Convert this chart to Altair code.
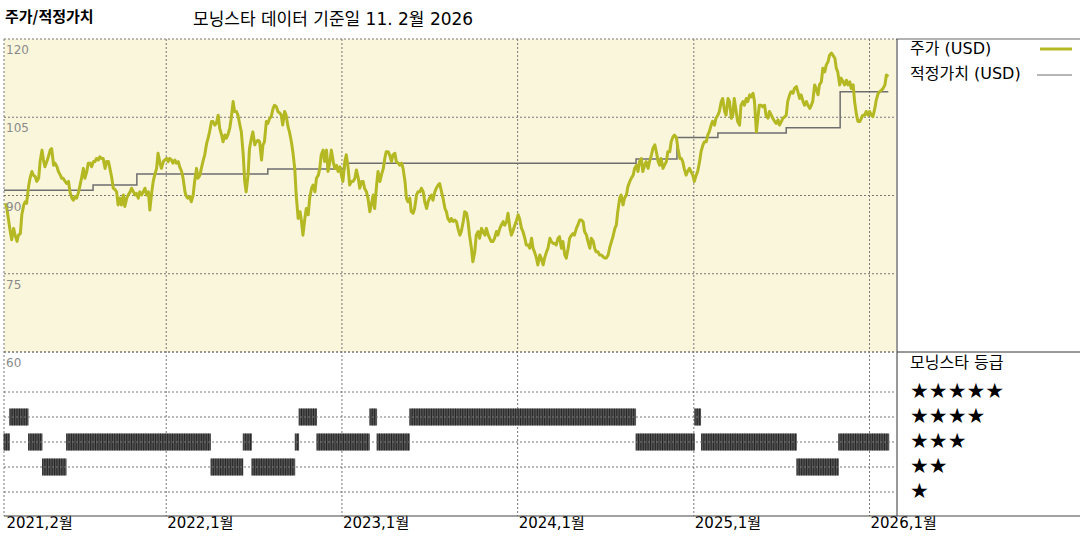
import altair as alt
import pandas as pd

KR = "Noto Sans CJK KR"
MIX = "DejaVu Sans, Noto Sans CJK KR"

title_text = "주가/적정가치"
subtitle_text = "모닝스타 데이터 기준일 11. 2월 2026"
legend_price = "주가 (USD)"
legend_fv = "적정가치 (USD)"
legend_rating = "모닝스타 등급"

x_domain = ["2021-01-29", "2026-02-25"]
year_dates = ["2021-02-01", "2022-01-01", "2023-01-01", "2024-01-01", "2025-01-01", "2026-01-01"]
year_labels = ["2021,2월", "2022,1월", "2023,1월", "2024,1월", "2025,1월", "2026,1월"]
grid_dates = ["2022-01-01", "2023-01-01", "2024-01-01", "2025-01-01", "2026-01-01"]
price_ticks = [120, 105, 90, 75, 60]
star_levels = [5, 4, 3, 2, 1]

# price, read in three stretches (start date, end date, values evenly spaced)
price_a_span = ("2021-02-01", "2022-10-02")
price_a = [88.5, 87.5, 85.6, 83.1, 81.5, 83.7, 82.4, 81.2, 82.4, 82.7, 86.3, 88.2, 88.8, 88.5, 91.7, 93.3,
           94.6, 93.9, 93.6, 92.7, 93.3, 96.5, 98.7, 96.8, 95.5, 96.5, 97.4, 98.7, 99.0, 95.8, 96.2, 95.5,
           94.6, 93.9, 93.3, 93.3, 92.7, 92.3, 92.7, 90.7, 89.5, 89.1, 89.8, 89.5, 90.7, 92.0, 93.3, 95.2,
           93.3, 94.6, 96.2, 96.2, 95.5, 96.5, 96.5, 97.1, 96.8, 97.4, 97.1, 97.1, 95.2, 96.5, 96.5, 95.2,
           93.3, 91.4, 91.1, 90.7, 88.2, 89.5, 88.2, 90.1, 87.9, 89.5, 90.1, 90.7, 91.4, 90.7, 90.1, 90.4,
           89.5, 90.7, 90.1, 90.7, 91.4, 90.1, 90.7, 87.2, 90.7, 92.7, 93.9, 95.2, 98.1, 96.2, 95.2, 96.5,
           96.8, 97.1, 96.5, 97.1, 96.8, 96.2, 96.8, 96.2, 96.5, 95.5, 94.6, 93.3, 90.7, 89.8, 89.5, 89.8,
           88.8, 90.1, 92.7, 95.2, 93.3, 93.9, 95.2, 96.8, 97.8, 100.0, 101.0, 102.2, 104.2, 104.2, 103.5,
           103.8, 105.4, 102.9, 101.6, 100.3, 101.6, 101.0, 101.6, 102.9, 104.8, 108.0, 106.1, 106.1, 105.4,
           103.5, 102.2, 97.8, 92.7, 90.7, 93.9, 99.0, 101.0, 102.2, 99.7, 100.3, 100.6, 100.3, 96.8, 99.7,
           100.3, 104.2, 103.8, 104.8, 105.1, 106.7, 107.3, 107.0, 106.1, 105.8, 105.4, 103.5, 106.1, 105.4,
           103.2, 102.2, 100.3, 98.4, 95.2, 90.1, 85.6]

price_b_span = ("2022-10-06", "2024-12-03")
price_b = [86.9, 85.0, 82.4, 85.6, 87.5, 86.3, 89.5, 91.4, 92.0, 90.7, 93.3, 93.9, 95.2, 97.8, 98.7, 96.5,
           98.7, 94.6, 96.5, 98.7, 96.5, 95.2, 95.8, 94.6, 95.5, 93.9, 92.7, 96.5, 97.8, 95.2, 92.0, 92.7,
           92.7, 93.3, 94.9, 93.3, 91.4, 92.7, 92.7, 91.4, 90.7, 89.5, 86.9, 88.2, 90.1, 87.5, 92.0, 94.6,
           92.7, 93.9, 95.2, 97.1, 98.4, 98.4, 97.8, 96.5, 97.8, 98.1, 96.5, 96.2, 95.8, 96.2, 95.2, 92.7,
           89.5, 88.8, 89.5, 86.9, 86.6, 87.5, 90.1, 90.7, 90.7, 91.4, 90.7, 88.8, 87.5, 88.8, 89.5, 90.1,
           89.1, 90.7, 91.4, 92.0, 92.3, 90.7, 89.5, 87.5, 86.9, 85.6, 85.0, 85.6, 85.0, 85.3, 85.0, 83.7,
           82.4, 83.1, 85.0, 86.9, 86.6, 85.0, 82.4, 79.9, 77.3, 79.2, 82.4, 83.1, 81.8, 83.7, 83.1, 82.4,
           83.7, 82.4, 81.8, 81.2, 81.2, 81.8, 83.1, 82.4, 83.7, 84.3, 85.0, 84.3, 85.0, 86.6, 83.7, 82.4,
           83.1, 84.3, 85.0, 86.3, 85.6, 83.7, 83.1, 81.8, 80.5, 80.5, 79.9, 81.8, 79.9, 79.2, 78.0, 76.7,
           78.6, 78.0, 76.7, 78.0, 79.2, 79.9, 81.8, 81.2, 80.8, 80.8, 80.5, 81.8, 82.1, 79.9, 81.2, 78.6,
           78.0, 79.9, 81.8, 82.4, 82.7, 82.4, 83.7, 84.3, 85.3, 85.3, 85.0, 83.1, 82.4, 81.2, 79.9, 81.8,
           81.2, 79.9, 79.2, 79.2, 78.6, 78.6, 78.3, 78.0, 78.0, 78.6, 79.9, 81.2, 82.1, 83.7, 84.3, 86.9,
           89.5, 90.1, 88.2, 89.5, 90.1, 91.7, 92.7, 93.3, 93.9, 95.2, 95.8, 94.6, 96.5, 97.1, 94.6, 95.8,
           96.5, 95.2, 96.5, 97.8, 99.0, 99.7, 98.4, 96.5, 95.8, 97.1, 95.2, 95.8, 96.5, 98.4, 98.4, 100.3,
           101.3, 101.6, 101.0, 99.0, 97.1]

price_c_span = ("2024-12-06", "2026-02-09")
price_c = [97.1, 96.5, 95.2, 93.9, 94.6, 95.2, 94.6, 93.9, 92.7, 93.9, 94.6, 96.5, 98.4, 99.7, 100.3, 100.3,
           101.6, 102.2, 103.5, 104.2, 103.5, 104.8, 105.4, 106.1, 108.0, 108.6, 106.1, 105.4, 108.6, 108.0,
           104.8, 105.4, 108.6, 106.1, 104.2, 103.5, 107.3, 108.0, 107.3, 108.6, 108.0, 109.3, 108.9, 109.6,
           108.0, 102.2, 104.8, 107.3, 107.3, 107.0, 107.3, 105.4, 104.8, 106.1, 105.4, 104.8, 104.2, 103.8,
           104.5, 103.5, 104.2, 104.8, 105.1, 105.4, 108.0, 109.3, 109.9, 109.6, 110.5, 110.9, 109.9, 108.6,
           109.3, 108.0, 107.3, 108.0, 107.3, 106.7, 107.3, 108.0, 111.2, 110.5, 109.3, 111.2, 111.8, 114.4,
           113.7, 115.0, 115.7, 116.9, 117.3, 116.9, 116.3, 114.4, 113.7, 111.2, 112.5, 111.8, 111.2, 112.1,
           111.2, 111.8, 110.5, 111.2, 108.0, 105.4, 104.2, 104.2, 104.8, 105.4, 105.4, 106.1, 105.4, 106.1,
           105.4, 105.1, 106.7, 108.3, 109.6, 109.9, 110.2, 110.5, 111.2, 113.1, 112.8]

# fair value steps (date where a level starts, level)
fv_dates = ["2021-01-29", "2021-08-02", "2021-11-01", "2022-07-31", "2023-01-07", "2024-09-03",
            "2024-11-27", "2025-02-20", "2025-07-12", "2025-11-01", "2026-02-09"]
fv_values = [91.0, 92.0, 94.1, 95.1, 96.2, 97.0, 101.1, 102.0, 103.0, 109.9, 109.9]

# Morningstar rating periods
rating_start = ["2021-01-29", "2021-02-10", "2021-03-21", "2021-04-19", "2021-06-08", "2022-04-04",
                "2022-06-10", "2022-06-28", "2022-09-26", "2022-10-04", "2022-11-10", "2023-02-28",
                "2023-03-15", "2023-05-22", "2024-09-03", "2025-01-03", "2025-01-17", "2025-08-03",
                "2025-10-29"]
rating_end = ["2021-02-10", "2021-03-21", "2021-04-19", "2021-06-08", "2022-04-04", "2022-06-10",
              "2022-06-28", "2022-09-26", "2022-10-04", "2022-11-10", "2023-02-28", "2023-03-15",
              "2023-05-22", "2024-09-03", "2025-01-03", "2025-01-16", "2025-08-03", "2025-10-29",
              "2026-02-11"]
rating_stars = [3, 4, 3, 2, 3, 2, 3, 2, 3, 4, 3, 4, 3, 4, 3, 4, 3, 2, 3]

# ---------------------------------------------------------------- build
frames = []
for (s, e), vals in [(price_a_span, price_a), (price_b_span, price_b), (price_c_span, price_c)]:
    d = pd.date_range(s, e, periods=len(vals)).strftime("%Y-%m-%d")
    frames.append(pd.DataFrame({"date": d, "price": vals}))
price_df = pd.concat(frames, ignore_index=True)
fv_df = pd.DataFrame({"date": fv_dates, "fv": fv_values})
rating_df = pd.DataFrame({"start": rating_start, "end": rating_end, "stars": rating_stars})

# daily rating marks (the rating bars are drawn as many daily strokes)
stripe_rows = []
for s, e, n in zip(rating_start, rating_end, rating_stars):
    days = pd.date_range(s, e, freq="D")
    for i, d in enumerate(days[:-1]):
        stripe_rows.append({"date": d.strftime("%Y-%m-%d"), "stars": n, "k": i % 5})
stripe_df = pd.DataFrame(stripe_rows)

XS = alt.Scale(domain=x_domain, range=[4, 896])
YP = alt.Scale(domain=[60, 120], range=[352, 39], zero=False, nice=False)
YR = alt.Scale(domain=[1, 5], range=[492, 392], zero=False, nice=False)
one = pd.DataFrame({"a": [0]})

GRID = "#777777"
DASH = [2, 2]


def static_rule(x, x2, y, y2, color, dash=None, width=1):
    kw = dict(color=color, strokeWidth=width)
    if dash:
        kw["strokeDash"] = dash
    return alt.Chart(one).mark_rule(**kw).encode(
        x=alt.value(x), x2=alt.value(x2), y=alt.value(y), y2=alt.value(y2))


def label(text, x, y, size, color="#000000", weight="normal", font=MIX, align="left"):
    return alt.Chart(pd.DataFrame({"t": [text]})).mark_text(
        align=align, baseline="middle", fontSize=size, font=font, fontWeight=weight, color=color
    ).encode(x=alt.value(x), y=alt.value(y), text="t:N")


background = alt.Chart(one).mark_rect(color="#faf6dc").encode(
    x=alt.value(4), x2=alt.value(896), y=alt.value(39), y2=alt.value(352))

price_grid = alt.Chart(pd.DataFrame({"v": price_ticks})).mark_rule(
    color=GRID, strokeDash=DASH, strokeWidth=1).encode(
    y=alt.Y("v:Q", scale=YP, axis=None), x=alt.value(4), x2=alt.value(896))

price_tick_labels = alt.Chart(pd.DataFrame({"v": price_ticks})).mark_text(
    align="left", baseline="middle", dx=0, dy=11, fontSize=12, font=MIX, color="#8a8a8a").encode(
    y=alt.Y("v:Q", scale=YP, axis=None), x=alt.value(6), text="v:Q")

fv_line = alt.Chart(fv_df).mark_line(interpolate="step-after", color="#6e6e6e", strokeWidth=1.5).encode(
    x=alt.X("date:T", scale=XS, axis=None), y=alt.Y("fv:Q", scale=YP, axis=None))

price_line = alt.Chart(price_df).mark_line(color="#b4b823", strokeWidth=3, strokeJoin="round").encode(
    x=alt.X("date:T", scale=XS, axis=None), y=alt.Y("price:Q", scale=YP, axis=None))

bars = alt.Chart(rating_df).transform_calculate(
    lo="datum.stars - 0.34", hi="datum.stars + 0.34").mark_rect(color="#555555").encode(
    x=alt.X("start:T", scale=XS, axis=None), x2="end:T",
    y=alt.Y("lo:Q", scale=YR, axis=None), y2="hi:Q")

stripes = alt.Chart(stripe_df).transform_filter("datum.k == 0").transform_calculate(
    lo="datum.stars - 0.34", hi="datum.stars + 0.34").mark_rule(
    color="#1a1a1a", strokeWidth=0.8).encode(
    x=alt.X("date:T", scale=XS, axis=None),
    y=alt.Y("lo:Q", scale=YR, axis=None), y2="hi:Q")

rating_grid = alt.Chart(pd.DataFrame({"s": star_levels})).mark_rule(
    color=GRID, strokeDash=DASH, strokeWidth=1).encode(
    y=alt.Y("s:Q", scale=YR, axis=None), x=alt.value(4), x2=alt.value(896))

year_grid = alt.Chart(pd.DataFrame({"d": grid_dates})).mark_rule(
    color=GRID, strokeDash=DASH, strokeWidth=1).encode(
    x=alt.X("d:T", scale=XS, axis=None), y=alt.value(39), y2=alt.value(516))

year_text = alt.Chart(pd.DataFrame({"d": year_dates, "t": year_labels})).mark_text(
    align="left", baseline="middle", dx=1, fontSize=15, font=MIX, color="#000000").encode(
    x=alt.X("d:T", scale=XS, axis=None), y=alt.value(523), text="t:N")

stars_text = alt.Chart(pd.DataFrame({"s": star_levels, "t": ["★" * n for n in star_levels]})).mark_text(
    align="left", baseline="middle", fontSize=21, font="DejaVu Sans", color="#000000").encode(
    y=alt.Y("s:Q", scale=YR, axis=None), x=alt.value(910), text="t:N")

left_border = static_rule(4, 4, 39, 516, GRID, DASH)
mid_border = static_rule(4, 896, 352, 352, GRID, DASH)
legend_top = static_rule(896, 1080, 39, 39, "#666666")
legend_div = static_rule(897, 1080, 352, 352, "#333333")
legend_vert = static_rule(897, 897, 39, 516, "#333333")
bottom_axis = static_rule(4, 1080, 516, 516, "#444444", width=1.2)
price_swatch = static_rule(1040, 1072, 49, 49, "#b4b823", width=3)
fv_swatch = static_rule(1037, 1072, 75, 75, "#6e6e6e", width=1.2)

chart = alt.layer(
    background, price_grid, year_grid, left_border, fv_line, price_line,
    bars, stripes, rating_grid, mid_border, price_tick_labels, year_text,
    legend_top, legend_div, legend_vert, bottom_axis, price_swatch, fv_swatch,
    label(title_text, 5, 17, 15, weight="bold", font=KR),
    label(subtitle_text, 193, 20, 17),
    label(legend_price, 910, 49, 16),
    label(legend_fv, 910, 74, 16),
    label(legend_rating, 910, 363, 16),
    stars_text,
).resolve_scale(y="independent").properties(
    width=1080, height=540, autosize=alt.AutoSizeParams(type="none"), padding=0
).configure_view(stroke=None)

chart.save("out.html", embed_options={"renderer": "svg", "actions": False})
